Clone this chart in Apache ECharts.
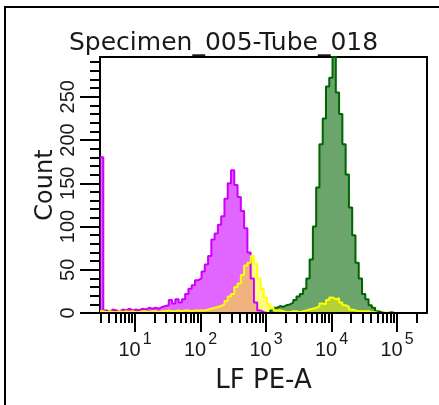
<!DOCTYPE html>
<html><head><meta charset="utf-8">
<script src="https://cdn.jsdelivr.net/npm/echarts@6/dist/echarts.min.js"></script>
<style>html,body{margin:0;padding:0;background:#fff}#c{width:439px;height:405px}</style>
</head><body><div id="c"></div>
<script>
// ---- text ----
const titleText = 'Specimen_005-Tube_018';
const xAxisName = 'LF PE-A';
const yAxisName = 'Count';

// ---- x axis (log10 of LF PE-A) ----
const xMinLog = 0.466;
const xMaxLog = 5.458;
const xDecadeExponents = [1, 2, 3, 4, 5];
const xTickLabels = ['1', '2', '3', '4', '5'];   // shown as 10^n

// ---- y axis ----
const yMax = 296;
const yMajorTicks = [0, 50, 100, 150, 200, 250];
const yTickLabels = ['0', '50', '100', '150', '200', '250'];
const yMinorTicks = [10, 20, 30, 40, 60, 70, 80, 90, 110, 120, 130, 140, 160, 170, 180, 190, 210, 220, 230, 240, 260, 270, 280, 290];

// ---- histogram bins (log10 scale) ----
const binStartLog = 0.466;
const binWidthLog = 0.05;

const magentaCounts = [
  180, 3, 2, 4, 3, 2, 4, 3, 5, 3, 4, 3, 5, 4, 6,
  5, 6, 5, 7, 8, 9, 15, 11, 16, 12, 16, 22, 28, 32, 38,
  40, 48, 56, 66, 85, 92, 102, 112, 132, 150, 165, 148, 134, 118, 98, 70, 40, 12, 3, 1,
  0, 0, 0, 0, 0, 0, 0, 0, 0, 0, 0, 0, 0, 0, 0, 0, 0, 0, 0, 0, 0, 0, 0, 0, 0,
  0, 0, 0, 0, 0, 0, 0, 0, 0, 0, 0, 0, 0, 0, 0, 0, 0, 0, 0, 0, 0, 0, 0, 0, 0
];
const yellowCounts = [
  2, 1, 2, 1, 1, 2, 1, 2, 1, 2, 1, 1, 2, 2, 1, 2, 2, 1, 2, 2, 3, 2, 2, 3, 2, 3, 3, 2, 3, 3, 3,
  3, 4, 5, 6, 7, 8, 10, 14, 19, 22, 30, 34, 44, 55, 58, 66, 57, 40, 28, 18, 10, 6, 3, 3, 2,
  1, 1, 2, 2, 1, 2, 3, 4, 5, 6, 8, 11, 10, 15, 18, 16, 17, 12, 9, 7, 4, 3, 2, 2, 2, 2, 1, 1, 0, 0, 1,
  0, 0, 0, 0, 0, 0, 0, 0, 0, 0, 0, 0, 0
];
const greenCounts = [
  0, 0, 0, 0, 0, 0, 0, 0, 0, 0, 0, 0, 0, 0, 0, 0, 0, 0, 0, 0, 0, 0, 0, 0, 0, 0,
  0, 0, 0, 0, 0, 0, 0, 0, 0, 0, 0, 0, 0, 0, 0, 0, 0, 0, 0, 0, 0, 0, 0, 0, 0, 0,
  3, 6, 8, 7, 9, 10, 12, 15, 19, 22, 28, 40, 62, 100, 145, 195, 225, 262, 272, 300,
  255, 230, 195, 160, 122, 90, 58, 40, 22, 16, 9, 6, 2, 1, 0, 0, 1,
  0, 0, 0, 0, 0, 0, 0, 0, 0, 0, 0
];

function toSteps(counts) {
  const pts = counts.map((c, i) => [binStartLog + i * binWidthLog, c]);
  pts.push([binStartLog + counts.length * binWidthLog, 0]);
  return pts;
}

const majorXTicks = xDecadeExponents.slice();
const minorXTicks = [];
for (let d = 0; d <= 5; d++) {
  for (let k = 2; k <= 9; k++) {
    const v = d + Math.log10(k);
    if (v >= xMinLog && v <= xMaxLog) minorXTicks.push(v);
  }
}

const font = 'Liberation Sans, Arial, sans-serif';
const textColor = '#1a1a1a';

const chart = echarts.init(document.getElementById('c'), null, { renderer: 'canvas' });
chart.setOption({
  animation: false,
  backgroundColor: '#fff',
  title: {
    text: titleText, left: 64, top: 26,
    textStyle: { fontFamily: 'DejaVu Sans', fontSize: 25, fontWeight: 'normal', color: textColor }
  },
  graphic: [{
    type: 'rect', z: 100, silent: true,
    shape: { x: 5, y: 7, width: 520, height: 520 },
    style: { fill: 'none', stroke: '#000', lineWidth: 2 }
  }],
  grid: { left: 100, right: 12, top: 57, bottom: 92, show: true, borderColor: '#000', borderWidth: 2, backgroundColor: 'transparent' },
  xAxis: [{
    type: 'value', min: xMinLog, max: xMaxLog, position: 'bottom', z: 3,
    axisLine: { lineStyle: { color: '#000', width: 2 } },
    axisTick: { customValues: majorXTicks, length: 19, lineStyle: { color: '#000', width: 2 } },
    axisLabel: {
      customValues: majorXTicks, margin: 21, color: textColor,
      formatter: v => '{b|10}{s|' + xTickLabels[xDecadeExponents.indexOf(Math.round(v))] + '}',
      rich: {
        b: { fontFamily: font, fontSize: 20, lineHeight: 20, padding: [12, 0, 0, 0], color: textColor },
        s: { fontFamily: font, fontSize: 16, lineHeight: 16, padding: [0, 0, 8, 2], color: textColor }
      }
    },
    splitLine: { show: false },
    name: xAxisName, nameLocation: 'middle', nameGap: 55, nameMoveOverlap: false,
    nameTextStyle: { fontFamily: 'DejaVu Sans', fontSize: 26, color: textColor }
  }, {
    type: 'value', min: xMinLog, max: xMaxLog, position: 'bottom', z: 3,
    axisLine: { show: false },
    axisTick: { customValues: minorXTicks, length: 10, lineStyle: { color: '#000', width: 2 } },
    axisLabel: { show: false },
    splitLine: { show: false }
  }],
  yAxis: [{
    type: 'value', min: 0, max: yMax, position: 'left',
    axisLine: { show: true, lineStyle: { color: '#000', width: 2 } },
    axisTick: { show: true, customValues: yMajorTicks, length: 20, lineStyle: { color: '#000', width: 2 } },
    axisLabel: {
      customValues: yMajorTicks, rotate: 90, margin: 22, color: textColor,
      fontFamily: font, fontSize: 20,
      formatter: v => yTickLabels[yMajorTicks.indexOf(v)]
    },
    splitLine: { show: false },
    name: yAxisName, nameLocation: 'middle', nameGap: 42, nameMoveOverlap: false,
    nameTextStyle: { fontFamily: 'DejaVu Sans', fontSize: 24, color: textColor }
  }, {
    type: 'value', min: 0, max: yMax, position: 'left',
    axisLine: { show: false },
    axisTick: { show: true, customValues: yMinorTicks, length: 10, lineStyle: { color: '#000', width: 2 } },
    axisLabel: { show: false },
    splitLine: { show: false }
  }],
  series: [{
    type: 'line', name: 'magenta', step: 'end', symbol: 'none', xAxisIndex: 0, yAxisIndex: 0,
    data: toSteps(magentaCounts),
    lineStyle: { color: '#CC00FF', width: 2 },
    areaStyle: { color: 'rgba(204,0,255,0.6)', opacity: 1 }, z: 2
  }, {
    type: 'line', name: 'green', step: 'end', symbol: 'none', xAxisIndex: 0, yAxisIndex: 0,
    data: toSteps(greenCounts),
    lineStyle: { color: '#006400', width: 2 },
    areaStyle: { color: 'rgba(0,100,0,0.58)', opacity: 1 }, z: 2
  }, {
    type: 'line', name: 'yellow', step: 'end', symbol: 'none', xAxisIndex: 0, yAxisIndex: 0,
    data: toSteps(yellowCounts),
    lineStyle: { color: '#FFFF00', width: 2 },
    areaStyle: { color: 'rgba(255,255,0,0.5)', opacity: 1 }, z: 2
  }]
});
</script>
</body></html>
